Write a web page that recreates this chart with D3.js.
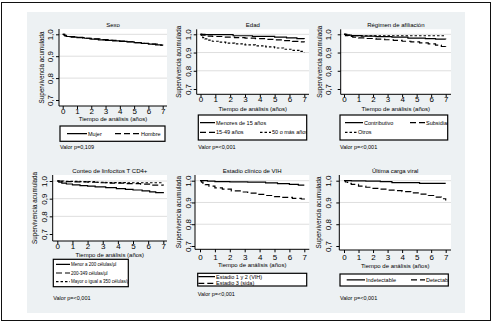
<!DOCTYPE html>
<html>
<head>
<meta charset="utf-8">
<script src="https://cdn.jsdelivr.net/npm/d3@7"></script>
<style>
  body { margin: 0; background: #fff; }
  svg { display: block; font-family: "Liberation Sans", Arial, sans-serif; }
</style>
</head>
<body>
<svg id="chart" width="494" height="325"></svg>
<script>
// survival curves, [years, cumulative survival]
var sexoMujer = [[0,1],[0.1,0.995],[0.25,0.99],[0.6,0.987],[1,0.985],[1.5,0.982],[2,0.978],[2.5,0.975],[3,0.972],[3.5,0.97],[4,0.968],[4.5,0.965],[5,0.962],[5.5,0.959],[6,0.955],[6.5,0.952],[6.9,0.95],[7,0.95]];
var sexoHombre = [[0,1],[0.15,0.993],[0.4,0.989],[0.9,0.986],[1.4,0.982],[1.9,0.979],[2.6,0.976],[3.2,0.972],[3.8,0.969],[4.4,0.966],[5.1,0.962],[5.7,0.958],[6.2,0.955],[6.8,0.951],[7,0.949]];

var edadMenores = [[0,1],[0.3,0.998],[2.2,0.992],[3.5,0.989],[5,0.984],[5.8,0.98],[6.5,0.976],[7,0.975]];
var edad1549 = [[0,1],[0.1,0.995],[0.3,0.99],[0.8,0.988],[1.5,0.985],[2.3,0.982],[3,0.979],[3.7,0.976],[4.4,0.972],[5,0.969],[5.6,0.965],[6.2,0.961],[6.7,0.958],[7,0.956]];
var edad50 = [[0,1],[0.05,0.99],[0.15,0.982],[0.3,0.975],[0.5,0.968],[0.8,0.962],[1.2,0.957],[1.7,0.952],[2.3,0.947],[3,0.942],[3.7,0.937],[4.4,0.931],[5,0.925],[5.6,0.918],[6.2,0.912],[6.7,0.906],[7,0.902]];

var regContributivo = [[0,1],[0.2,0.996],[0.5,0.993],[1.2,0.99],[2.2,0.987],[3.3,0.984],[4.4,0.979],[5.6,0.976],[6.3,0.974],[7,0.973]];
var regSubsidiado = [[0,1],[0.1,0.993],[0.3,0.988],[0.6,0.984],[1,0.98],[1.6,0.977],[2.2,0.974],[2.8,0.97],[3.4,0.967],[4,0.962],[4.6,0.958],[5.2,0.953],[5.8,0.947],[6.3,0.941],[6.7,0.933],[7,0.92]];
var regOtros = [[0,1],[0.2,0.995],[0.5,0.992],[7,0.992]];

var cd4Menor200 = [[0,1],[0.1,0.994],[0.3,0.988],[0.6,0.983],[1,0.978],[1.5,0.974],[2,0.971],[2.5,0.967],[3.2,0.962],[3.9,0.957],[4.5,0.953],[5,0.949],[5.6,0.944],[6.1,0.939],[6.5,0.934],[7,0.931]];
var cd4200a349 = [[0,1],[0.3,0.997],[1,0.995],[2,0.993],[2.8,0.99],[3.5,0.988],[4.5,0.985],[5.5,0.982],[6.2,0.977],[7,0.974]];
var cd4Mayor350 = [[0,1],[0.5,0.998],[1.5,0.996],[2.5,0.993],[3.2,0.991],[4.5,0.99],[7,0.989]];

var estadio12 = [[0,1],[0.5,0.998],[1,0.996],[2,0.995],[3.2,0.993],[4.4,0.99],[5.2,0.987],[6,0.983],[6.6,0.98],[7,0.98]];
var estadio3 = [[0,1],[0.1,0.993],[0.2,0.988],[0.35,0.982],[0.6,0.975],[1,0.967],[1.5,0.961],[2.1,0.953],[2.7,0.948],[3.2,0.943],[3.8,0.937],[4.4,0.932],[5,0.927],[5.5,0.923],[6.2,0.919],[6.8,0.916],[7,0.913]];

var cvIndetectable = [[0,1],[0.5,0.999],[1.5,0.998],[2.5,0.996],[3.3,0.991],[5.2,0.988],[7,0.988]];
var cvDetectable = [[0,1],[0.1,0.994],[0.25,0.988],[0.5,0.983],[1,0.975],[1.5,0.97],[2,0.965],[2.5,0.961],[3,0.957],[3.5,0.954],[4,0.95],[4.6,0.944],[5.2,0.938],[5.8,0.932],[6.3,0.925],[6.7,0.917],[7,0.909]];

var titles = ["Sexo", "Edad", "Régimen de afiliación", "Conteo de linfocitos T CD4+", "Estadio clínico de VIH", "Última carga viral"];
var pValues = ["Valor p=0,109", "Valor p=<0,001", "Valor p=<0,001", "Valor p=<0,001", "Valor p=<0,001", "Valor p=<0,001"];
var seriesNames = [
  ["Mujer", "Hombre"],
  ["Menores de 15 años", "15-49 años", "50 o más años"],
  ["Contributivo", "Subsidiado", "Otros"],
  ["Menor a 200 células/µl", "200-349 células/µl", "Mayor o igual a 350 células/µl"],
  ["Estadio 1 y 2 (VIH)", "Estadio 3 (sida)"],
  ["Indetectable", "Detectable"]
];
var seriesData = [
  [sexoMujer, sexoHombre],
  [edadMenores, edad1549, edad50],
  [regContributivo, regSubsidiado, regOtros],
  [cd4Menor200, cd4200a349, cd4Mayor350],
  [estadio12, estadio3],
  [cvIndetectable, cvDetectable]
];
var xTicks = [0, 1, 2, 3, 4, 5, 6, 7];
var yTicks = [0.7, 0.8, 0.9, 1.0];
var yGrid = [0.8, 0.9, 1.0];
var xTitle = "Tiempo de análisis (años)";
var yTitle = "Supervivencia acumulada";

// layout per panel (pixels)
var layout = [
  {l:59, r:167, t:29, b:106, x0:62.7, x7:162.7, y1:34.3, y07:100, titleY:27, xlabY:114, xtitY:120.5, ylabX:50, ytitX:41.5,
   box:[60,126,165,141.3], leg:[[67,87,133.7],[115,140,133.7]], legFs:5.5, pY:147.5},
  {l:196.7, r:309, t:29.3, b:94.3, x0:200.5, x7:304.3, y1:34.3, y07:89, titleY:26.5, xlabY:102, xtitY:110.5, ylabX:187.7, ytitX:178.3,
   box:[198.3,115,306.7,140], leg:[[200,215,122.7],[200,215,132.3],[260,271,132.3]], legFs:5.5, pY:147.5},
  {l:340.7, r:451, t:29.3, b:94.3, x0:344, x7:445.7, y1:34.3, y07:89, titleY:26.5, xlabY:102, xtitY:110.5, ylabX:328.3, ytitX:320,
   box:[340,115,447.7,140], leg:[[345,363,122.7],[410,425,122.7],[345,357,132.3]], legFs:5.5, pY:147.5},
  {l:52.7, r:167, t:175, b:241, x0:57.3, x7:163.3, y1:181, y07:234, titleY:173, xlabY:249, xtitY:256.5, ylabX:44, ytitX:34.3,
   box:[53.3,259.3,128.3,286.7], leg:[[56,70,264.3],[56,70,273],[56,70,281.7]], legFs:4.5, pY:298},
  {l:195, r:309.3, t:175, b:249.3, x0:200, x7:304.3, y1:180.7, y07:246, titleY:172.5, xlabY:260, xtitY:267, ylabX:187.7, ytitX:178.3,
   box:[197.7,273.3,306.7,286], leg:[[198.3,215,276.7],[198.3,215,283.3]], legFs:5.5, pY:294.5},
  {l:339.3, r:451, t:175, b:250, x0:344, x7:445.7, y1:180.7, y07:246, titleY:172.5, xlabY:259.5, xtitY:268, ylabX:328.3, ytitX:319,
   box:[340,274,448.3,286], leg:[[346.7,365,279.8],[411,425,279.8]], legFs:5.5, pY:298.5}
];
var dashes = [null, "6,3", "2.5,2"];

var svg = d3.select("#chart");

svg.append("rect").attr("x", 27).attr("y", 12).attr("width", 438).attr("height", 301).attr("fill", "#edf1f3");
svg.append("rect").attr("x", 1.5).attr("y", 2.5).attr("width", 489).attr("height", 318)
  .attr("fill", "none").attr("stroke", "#111").attr("stroke-width", 1);

layout.forEach(function(p, i) {
  var g = svg.append("g");
  var x = d3.scaleLinear().domain([0, 7]).range([p.x0, p.x7]);
  var y = d3.scaleLinear().domain([0.7, 1.0]).range([p.y07, p.y1]);
  var cx = (p.l + p.r) / 2;

  g.append("rect").attr("x", p.l).attr("y", p.t).attr("width", p.r - p.l).attr("height", p.b - p.t).attr("fill", "#fff");

  g.selectAll(".grid").data(yGrid).enter().append("line")
    .attr("x1", p.l).attr("x2", p.r)
    .attr("y1", function(d) { return y(d); }).attr("y2", function(d) { return y(d); })
    .attr("stroke", "#dedede").attr("stroke-width", 1);

  g.append("text").attr("x", cx).attr("y", p.titleY).attr("text-anchor", "middle")
    .style("font-size", "6px").text(titles[i]);

  // axes
  var xa = g.append("g").attr("transform", "translate(0," + p.b + ")")
    .call(d3.axisBottom(x).tickValues(xTicks).tickSize(3).tickSizeOuter(0).tickFormat(d3.format("d")));
  xa.select(".domain").remove();
  xa.selectAll("text").attr("y", p.xlabY - p.b).attr("dy", null).style("font-size", "8px").attr("fill", "#000");
  g.append("line").attr("x1", p.l).attr("x2", p.r).attr("y1", p.b).attr("y2", p.b).attr("stroke", "#000");

  var ya = g.append("g").attr("transform", "translate(" + p.l + ",0)")
    .call(d3.axisLeft(y).tickValues(yTicks).tickSize(3).tickSizeOuter(0)
      .tickFormat(function(d) { return d.toFixed(1).replace(".", ","); }));
  ya.select(".domain").remove();
  ya.selectAll("text").attr("transform", "rotate(-90)").attr("text-anchor", "middle")
    .attr("x", 0).attr("y", -(p.l - p.ylabX)).attr("dy", "0.35em").style("font-size", "8px").attr("fill", "#000");
  g.append("line").attr("x1", p.l).attr("x2", p.l).attr("y1", p.t).attr("y2", p.b).attr("stroke", "#000");

  g.append("text").attr("x", cx).attr("y", p.xtitY).attr("text-anchor", "middle")
    .style("font-size", "6px").text(xTitle);
  g.append("text").attr("transform", "translate(" + p.ytitX + "," + ((p.t + p.b) / 2) + ") rotate(-90)")
    .attr("text-anchor", "middle").attr("dy", "0.35em").style("font-size", "6.3px").text(yTitle);

  // curves
  var line = d3.line().curve(d3.curveStepAfter)
    .x(function(d) { return x(d[0]); }).y(function(d) { return y(d[1]); });
  seriesData[i].forEach(function(s, k) {
    g.append("path").attr("d", line(s)).attr("fill", "none").attr("stroke", "#000")
      .attr("stroke-width", 1.2).attr("stroke-dasharray", dashes[k]);
  });

  // legend
  var b = p.box;
  g.append("rect").attr("x", b[0]).attr("y", b[1]).attr("width", b[2] - b[0]).attr("height", b[3] - b[1])
    .attr("fill", "#fff").attr("stroke", "#000").attr("stroke-width", 1.2);
  var clip = "clip" + i;
  svg.append("clipPath").attr("id", clip).append("rect")
    .attr("x", b[0]).attr("y", b[1]).attr("width", b[2] - b[0]).attr("height", b[3] - b[1]);
  var lg = g.append("g").attr("clip-path", "url(#" + clip + ")");
  p.leg.forEach(function(e, k) {
    lg.append("line").attr("x1", e[0]).attr("x2", e[1]).attr("y1", e[2]).attr("y2", e[2])
      .attr("stroke", "#000").attr("stroke-width", 1.2).attr("stroke-dasharray", dashes[k]);
    lg.append("text").attr("x", e[1] + 1).attr("y", e[2]).attr("dy", "0.35em")
      .style("font-size", p.legFs + "px").text(seriesNames[i][k]);
  });

  g.append("text").attr("x", b[0]).attr("y", p.pY).attr("dy", "0.35em")
    .style("font-size", "5.5px").text(pValues[i]);
});
</script>
</body>
</html>
